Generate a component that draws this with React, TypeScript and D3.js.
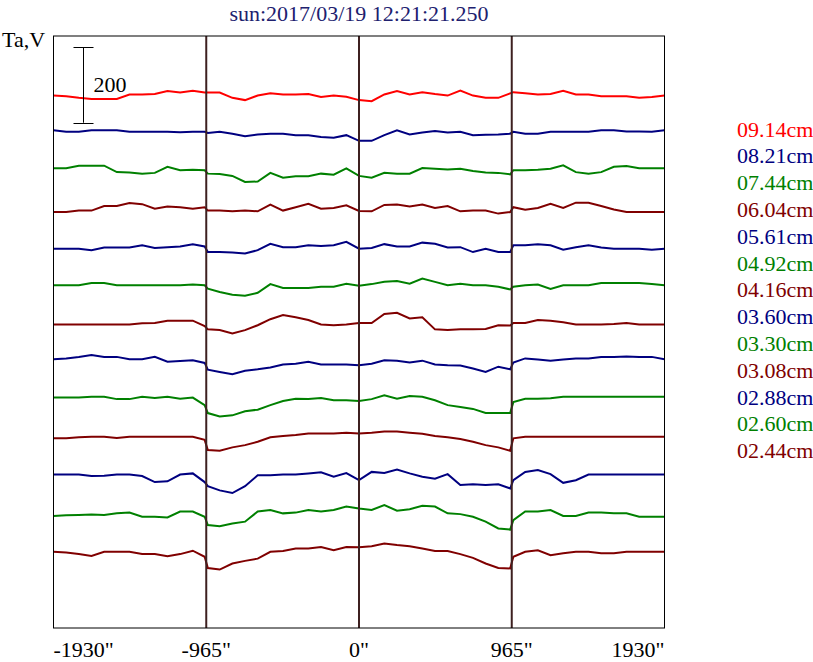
import React, { useRef, useEffect } from "react";
import * as d3 from "d3";

// scan positions (arcsec), limb crossing at +-965
const positions = [
  -1930, -1850, -1770, -1690, -1610, -1530, -1450, -1370, -1290, -1210, -1130, -1050, -975,
  -955, -880, -800, -720, -640, -560, -480, -400, -320, -240, -160, -80,
  0,
  80, 160, 240, 320, 400, 480, 560, 640, 720, 800, 880, 955,
  975, 1050, 1130, 1210, 1290, 1370, 1450, 1530, 1610, 1690, 1770, 1850, 1930,
];

const labels = [
  "09.14cm", "08.21cm", "07.44cm", "06.04cm", "05.61cm", "04.92cm", "04.16cm",
  "03.60cm", "03.30cm", "03.08cm", "02.88cm", "02.60cm", "02.44cm",
];
const colors = [
  "#ff0000", "#000080", "#008000", "#800000", "#000080", "#008000", "#800000",
  "#000080", "#008000", "#800000", "#000080", "#008000", "#800000",
];
// vertical offset of each trace (Ta units)
const offsets = [1412, 1320, 1219, 1103, 1006, 909, 805, 713, 611, 503, 407, 297, 202];

const s0914 = [0, -2, -6, -9, -9, -9, 3, 3, 4, 12, 8, 13, 8, 8, 8, -6, -12, 0, 6, 3, 3, 4, -4, 0, -3, -12, -15, 3, 12, 3, 9, 4, 0, 13, 0, -6, -6, 6, 9, 6, 3, 4, 13, 3, 3, -2, -2, -2, -6, -4, 0];
const s0821 = [0, -4, -4, 0, 0, 0, -4, -4, -4, -4, -5, -4, -4, -7, -4, -9, -16, -11, -9, -9, -13, -13, -18, -20, -13, -28, -28, -13, 0, -11, -6, -2, -6, -4, -13, -12, -11, -9, -4, -9, -9, -4, -4, -4, -4, 0, 0, -3, -3, -4, 0];
const s0744 = [0, 0, 7, 7, 7, -10, -11, -14, -12, 4, -5, -4, -5, -14, -15, -20, -36, -35, -12, -25, -21, -21, -14, -17, 0, -20, -25, -12, -14, -14, 1, -1, -3, -1, -7, -11, -12, -16, -5, -5, -4, -1, 8, -10, -14, -10, 4, 6, 0, 0, 0];
const s0604 = [0, 0, 4, 4, 16, 16, 24, 21, 9, 15, 13, 9, 13, 4, 4, 2, 4, 2, 20, 4, 13, 22, 9, 11, 18, 3, 2, 19, 20, 15, 20, 11, 16, 2, 4, 4, -4, 0, 13, 6, 11, 22, 11, 25, 25, 16, 7, 0, 0, 0, 0];
const s0561 = [0, 0, 0, -4, 3, 3, 3, 9, 2, 4, 6, 12, 6, -9, -9, -10, -13, -4, 13, 4, 4, 9, 7, 9, 18, 0, 2, 12, 6, 6, 16, 13, 3, 4, -9, 0, -9, -9, 9, 9, 12, 9, -3, 4, 9, 3, 0, 0, 0, -3, 0];
const s0492 = [0, 0, 0, 6, 6, 0, 0, 0, 0, 0, 0, 2, 0, -9, -18, -25, -28, -20, 3, -7, -7, -7, -4, -4, 4, -1, 3, 9, 11, 4, 18, 9, 0, 4, 0, 0, -4, -11, -4, 0, 2, -10, 0, 0, 0, 6, 6, 6, 6, 3, 0];
const s0416 = [0, 0, 0, 0, 0, 0, 0, 3, 4, 10, 10, 10, -4, -13, -15, -24, -15, -2, 14, 25, 19, 12, 0, -2, 0, 4, 4, 28, 31, 16, 19, -13, -15, -13, -13, -12, -2, -3, 4, 4, 12, 10, 6, 0, 0, 0, 1, 4, 0, 0, 0];
const s0360 = [0, 2, 6, 11, 6, 6, 0, 0, 6, -7, -5, -3, -10, -28, -34, -40, -31, -27, -22, -14, -12, -7, -14, -14, -14, -16, -12, -3, -4, -9, -4, -14, -16, -17, -25, -34, -20, -27, -9, 2, -1, -4, -1, 2, 2, 6, 6, 7, 6, 6, 0];
const s0330 = [0, 0, 0, 2, 2, -4, -4, 2, -1, 2, -3, 0, -20, -41, -50, -47, -36, -32, -20, -9, -3, -4, -1, -7, -7, -9, -4, 6, -3, 4, 2, -7, -20, -25, -30, -41, -41, -41, -12, -3, -3, -2, 2, 2, 2, 2, 2, 2, 2, 2, 2];
const s0308 = [0, 0, 3, 4, 4, 1, 4, 4, 4, 4, 4, 4, -4, -31, -33, -24, -18, -9, 3, 6, 9, 13, 13, 13, 15, 13, 15, 18, 18, 15, 12, 6, 3, -2, -9, -18, -24, -33, 0, 4, 4, 4, 4, 4, 4, 4, 4, 4, 4, 4, 4];
const s0288 = [0, 0, 0, -4, -3, 0, 0, -4, -20, -18, 0, 3, -20, -31, -42, -49, -31, -2, -2, 0, 0, 3, 6, -6, 4, -15, 7, 4, 13, 3, -6, -11, 1, -28, -26, -28, -26, -37, -15, 7, 12, 1, -22, -15, 0, 0, 0, 0, 0, 0, 0];
const s0260 = [0, 2, 3, 4, 3, 7, 9, -2, -2, -4, 12, 12, -2, -24, -27, -20, -15, 12, 16, 7, 9, 16, 12, 16, 25, 20, 16, 29, 14, 18, 27, 25, 7, 5, -2, -15, -33, -36, -11, 12, 12, 16, 0, 0, 9, 9, 7, 7, -2, -2, -2];
const s0244 = [0, -2, -6, -11, 0, 0, 0, -6, -6, -12, -6, 3, -13, -43, -47, -31, -24, -18, 0, 2, 9, 9, 13, 4, 13, 12, 15, 22, 18, 15, 9, 2, 2, -6, -16, -31, -43, -44, -13, 0, 4, -9, -4, 0, 0, -4, -4, 0, 0, 0, 0];

const series = [s0914, s0821, s0744, s0604, s0561, s0492, s0416, s0360, s0330, s0308, s0288, s0260, s0244];

const tickValues = [-1930, -965, 0, 965, 1930];
const limbs = [-965, 0, 965];
const title = "sun:2017/03/19 12:21:21.250";
const scaleBar = 200;

export default function App() {
  const svgRef = useRef(null);

  useEffect(() => {
    const width = 813;
    const height = 662;
    const marginLeft = 53.5;
    const marginRight = 148.5;
    const marginTop = 36;
    const marginBottom = 34;
    const font = "'Liberation Serif', 'Times New Roman', serif";

    const x = d3.scaleLinear().domain([-1930, 1930]).range([marginLeft, width - marginRight]);
    const y = d3.scaleLinear().domain([0, 1570]).range([height - marginBottom, marginTop]);

    const svg = d3.select(svgRef.current);
    svg.selectAll("*").remove();

    svg.append("rect").attr("width", width).attr("height", height).attr("fill", "#fff");

    // title
    svg.append("text")
      .attr("x", 359)
      .attr("y", 21)
      .attr("text-anchor", "middle")
      .attr("font-family", font)
      .attr("font-size", 22)
      .attr("fill", "#20206e")
      .text(title);

    svg.append("text")
      .attr("x", 2)
      .attr("y", 47)
      .attr("font-family", font)
      .attr("font-size", 22)
      .attr("fill", "#000")
      .text("Ta,V");

    // traces
    const line = d3.line<number>()
      .x((_, i) => x(positions[i]))
      .y((d) => d);

    series.forEach((vals, k) => {
      svg.append("path")
        .datum(vals.map((v) => y(offsets[k] + v)))
        .attr("fill", "none")
        .attr("stroke", colors[k])
        .attr("stroke-width", 2)
        .attr("stroke-linejoin", "miter")
        .attr("d", line);
    });

    // limb / centre lines
    svg.append("g")
      .selectAll("line")
      .data(limbs)
      .join("line")
      .attr("x1", (d) => x(d))
      .attr("x2", (d) => x(d))
      .attr("y1", marginTop)
      .attr("y2", height - marginBottom)
      .attr("stroke", "#3e2020")
      .attr("stroke-width", 2);

    // frame
    svg.append("rect")
      .attr("x", marginLeft)
      .attr("y", marginTop)
      .attr("width", width - marginLeft - marginRight)
      .attr("height", height - marginTop - marginBottom)
      .attr("fill", "none")
      .attr("stroke", "#000")
      .attr("stroke-width", 1);

    // scale bar
    const bx = Math.round(x(-1745)) + 0.5;
    const b0 = y(1340);
    const b1 = y(1340 + scaleBar);
    const bar = svg.append("g").attr("stroke", "#000").attr("stroke-width", 1);
    bar.append("line").attr("x1", bx).attr("x2", bx).attr("y1", b0).attr("y2", b1);
    bar.append("line").attr("x1", bx - 10).attr("x2", bx + 10).attr("y1", Math.round(b0) + 0.5).attr("y2", Math.round(b0) + 0.5);
    bar.append("line").attr("x1", bx - 10).attr("x2", bx + 10).attr("y1", Math.round(b1) + 0.5).attr("y2", Math.round(b1) + 0.5);
    svg.append("text")
      .attr("x", bx + 10)
      .attr("y", (b0 + b1) / 2 + 7)
      .attr("font-family", font)
      .attr("font-size", 22)
      .attr("fill", "#000")
      .text(String(scaleBar));

    // x tick labels
    svg.append("g")
      .selectAll("text")
      .data(tickValues)
      .join("text")
      .attr("x", (d) => x(d))
      .attr("y", 656.5)
      .attr("text-anchor", (_, i) => (i === 0 ? "start" : i === tickValues.length - 1 ? "end" : "middle"))
      .attr("font-family", font)
      .attr("font-size", 22)
      .attr("fill", "#000")
      .text((d) => `${d}"`);

    // legend
    svg.append("g")
      .selectAll("text")
      .data(labels)
      .join("text")
      .attr("x", 737)
      .attr("y", (_, i) => 136.5 + i * 26.8)
      .attr("font-family", font)
      .attr("font-size", 22)
      .attr("fill", (_, i) => colors[i])
      .text((d) => d);
  }, []);

  return (
    <svg
      ref={svgRef}
      width={813}
      height={662}
      style={{ position: "absolute", left: 0, top: 0, display: "block" }}
    ></svg>
  );
}
